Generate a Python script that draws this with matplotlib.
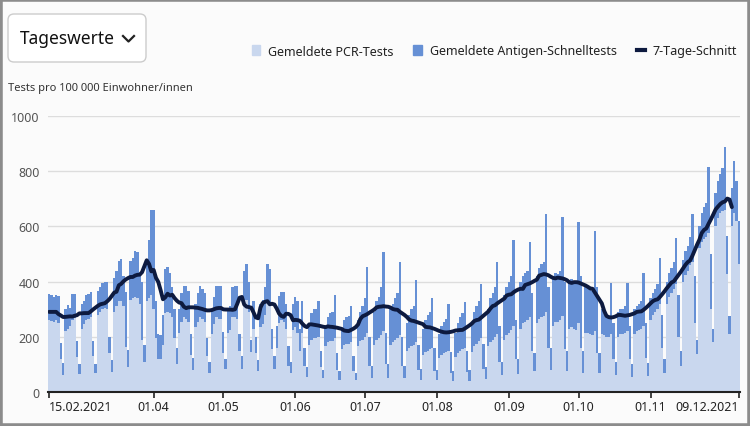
import pandas as pd
import matplotlib.pyplot as plt
from matplotlib.patches import Patch, FancyBboxPatch, Rectangle
from matplotlib.lines import Line2D

plt.rcParams['font.family'] = ['Noto Sans', 'DejaVu Sans']

start_date = '2021-02-15'

# Gemeldete PCR-Tests pro 100 000, eine Zeile = eine Woche (Mo-So)
pcr = [
    262, 258, 255, 260, 250, 118, 62,
    220, 228, 240, 262, 268, 128, 66,
    230, 245, 262, 265, 270, 130, 68,
    280, 290, 300, 305, 300, 140, 72,
    290, 310, 330, 330, 310, 164, 91,
    335, 340, 345, 340, 320, 190, 110,
    330, 340, 350, 300, 195, 120, 118,
    170, 285, 290, 285, 270, 195, 100,
    215, 255, 270, 265, 255, 135, 80,
    235, 255, 270, 265, 255, 130, 70,
    210, 245, 270, 265, 265, 143, 82,
    215, 225, 270, 270, 265, 150, 82,
    320, 335, 290, 145, 230, 140, 75,
    235, 245, 280, 330, 320, 155, 82,
    160, 250, 260, 255, 230, 95, 70,
    225, 235, 215, 150, 215, 95, 55,
    170, 190, 195, 195, 200, 90, 50,
    165, 180, 185, 185, 195, 80, 45,
    155, 170, 175, 175, 180, 75, 42,
    165, 185, 190, 200, 215, 95, 50,
    170, 190, 195, 205, 220, 100, 52,
    170, 180, 190, 195, 205, 95, 50,
    150, 160, 165, 170, 180, 80, 45,
    135, 145, 150, 155, 160, 75, 42,
    125, 135, 140, 145, 150, 70, 40,
    128, 140, 148, 155, 160, 72, 40,
    145, 165, 175, 185, 195, 85, 48,
    165, 180, 190, 200, 210, 110, 60,
    190, 205, 215, 225, 240, 120, 65,
    230, 250, 255, 260, 270, 150, 75,
    250, 265, 270, 275, 290, 160, 80,
    240, 255, 255, 260, 275, 155, 75,
    230, 235, 230, 225, 250, 160, 70,
    215, 215, 210, 205, 220, 140, 70,
    210, 205, 200, 200, 210, 120, 60,
    200, 210, 210, 215, 220, 120, 55,
    210, 220, 225, 230, 240, 125, 58,
    260, 280, 290, 300, 320, 160, 70,
    320, 345, 360, 375, 390, 200, 95,
    400, 425, 440, 460, 470, 250, 136,
    520, 545, 555, 560, 575, 300, 182,
    600, 630, 650, 654, 660, 428, 210,
    600, 650, 620, 464,
]

# Gemeldete Antigen-Schnelltests pro 100 000
antigen = [
    93, 92, 90, 92, 98, 60, 42,
    80, 87, 65, 93, 87, 56, 34,
    90, 85, 88, 90, 92, 55, 32,
    85, 90, 95, 95, 98, 60, 43,
    122, 129, 146, 151, 110, 200, 60,
    141, 147, 166, 168, 100, 210, 60,
    150, 210, 310, 360, 135, 90, 87,
    110, 160, 162, 145, 110, 105, 60,
    85, 105, 115, 118, 110, 75, 45,
    85, 105, 114, 110, 105, 65, 40,
    90, 100, 114, 119, 118, 73, 37,
    85, 85, 109, 113, 118, 60, 49,
    120, 129, 110, 45, 100, 60, 40,
    85, 90, 100, 134, 126, 73, 49,
    80, 99, 101, 106, 90, 72, 37,
    95, 110, 115, 80, 115, 65, 35,
    80, 95, 105, 105, 130, 60, 30,
    75, 90, 100, 105, 155, 60, 30,
    75, 90, 95, 100, 130, 55, 28,
    95, 105, 120, 140, 237, 105, 45,
    120, 140, 150, 175, 287, 115, 48,
    130, 140, 150, 165, 265, 105, 45,
    100, 120, 135, 140, 226, 90, 40,
    95, 115, 130, 135, 179, 85, 38,
    85, 105, 115, 120, 170, 75, 35,
    87, 110, 122, 130, 167, 78, 38,
    105, 125, 135, 145, 195, 90, 42,
    135, 160, 170, 180, 260, 130, 50,
    160, 175, 185, 195, 309, 140, 55,
    170, 170, 175, 180, 275, 210, 65,
    170, 185, 195, 195, 356, 220, 80,
    170, 175, 173, 180, 359, 245, 75,
    170, 175, 170, 165, 366, 260, 80,
    175, 170, 165, 160, 362, 240, 70,
    90, 85, 80, 75, 184, 130, 50,
    90, 90, 90, 95, 174, 120, 45,
    90, 90, 95, 100, 190, 125, 47,
    80, 80, 85, 90, 165, 120, 50,
    80, 85, 90, 95, 167, 150, 55,
    80, 85, 90, 100, 175, 170, 54,
    80, 105, 115, 125, 240, 200, 48,
    120, 133, 140, 158, 227, 137, 65,
    140, 187, 145, 156,
]

tick_dates = ['2021-02-15', '2021-04-01', '2021-05-01', '2021-06-01', '2021-07-01',
              '2021-08-01', '2021-09-01', '2021-10-01', '2021-11-01', '2021-12-09']
tick_labels = ['15.02.2021', '01.04', '01.05', '01.06', '01.07',
               '01.08', '01.09', '01.10', '01.11', '09.12.2021']

dates = pd.date_range(start_date, periods=len(pcr), freq='D')
x = list(range(len(dates)))
total = pd.Series(pcr) + pd.Series(antigen)
avg7 = total.rolling(7, center=True).mean().bfill().tolist()
avg7 = avg7[:len(avg7) - 3]

pcr_color = '#c9d7ee'
ag_color = '#6690d5'
line_color = '#0d1a3f'

fig = plt.figure(figsize=(7.5, 4.27), dpi=100)
fig.patch.set_facecolor('#fbfbfb')
ax = fig.add_axes([48 / 750, 34 / 427, 692 / 750, 276 / 427])
ax.set_facecolor('#fbfbfb')

ax.bar(x, pcr, width=1.0, color=pcr_color, linewidth=0)
ax.bar(x, antigen, width=1.0, bottom=pcr, color=ag_color, linewidth=0)
ax.plot(x[:len(avg7)], avg7, color=line_color, linewidth=2.8, solid_capstyle='round')

ax.set_xlim(-0.5, len(x) - 0.5)
ax.set_ylim(0, 1000)
ax.set_yticks([0, 200, 400, 600, 800, 1000])
ax.grid(axis='y', color='#dddddd', linewidth=1)
ax.set_axisbelow(True)
for s in ['left', 'right', 'top']:
    ax.spines[s].set_visible(False)
ax.spines['bottom'].set_color('#222222')
ax.spines['bottom'].set_linewidth(1.5)

tick_pos = [dates.get_loc(pd.Timestamp(d)) for d in tick_dates]
ax.set_xticks(tick_pos)
ax.set_xticklabels(tick_labels)
ax.tick_params(axis='x', length=4, width=1.2, colors='#222222', labelsize=9, pad=2)
ax.tick_params(axis='y', length=0, labelcolor='#555555', labelsize=9, pad=6)
xt = ax.get_xticklabels()
xt[0].set_horizontalalignment('left')
xt[-1].set_horizontalalignment('right')

# Auswahlfeld oben links
box = FancyBboxPatch((0.08, 3.64), 1.38, 0.48, boxstyle='round,pad=0,rounding_size=0.06',
                     transform=fig.dpi_scale_trans, facecolor='white', edgecolor='#cccccc', linewidth=1)
fig.add_artist(box)
fig.text(0.2, 3.875, 'Tageswerte', transform=fig.dpi_scale_trans, fontsize=12.5,
         va='center', ha='left', color='#111111')
fig.add_artist(Line2D([1.23, 1.285, 1.34], [3.90, 3.845, 3.90], transform=fig.dpi_scale_trans,
                      color='#222222', linewidth=1.6))

fig.text(8 / 750, 1 - 88 / 427, 'Tests pro 100 000 Einwohner/innen', fontsize=8,
         va='center', ha='left', color='#333333')

handles = [Patch(color=pcr_color), Patch(color=ag_color), Line2D([], [], color=line_color, linewidth=3)]
labels = ['Gemeldete PCR-Tests', 'Gemeldete Antigen-Schnelltests', '7-Tage-Schnitt']
fig.legend(handles, labels, ncol=3, loc='center right', bbox_to_anchor=(0.998, 1 - 52 / 427),
           frameon=False, fontsize=9, handlelength=0.7, handleheight=0.8,
           handletextpad=0.6, columnspacing=1.6, labelcolor='#222222')

fig.add_artist(Rectangle((0, 0), 7.5, 4.27, transform=fig.dpi_scale_trans, fill=False,
                         edgecolor='#8c8c8c', linewidth=4))

fig.savefig('out.png', dpi=100, facecolor=fig.get_facecolor())
